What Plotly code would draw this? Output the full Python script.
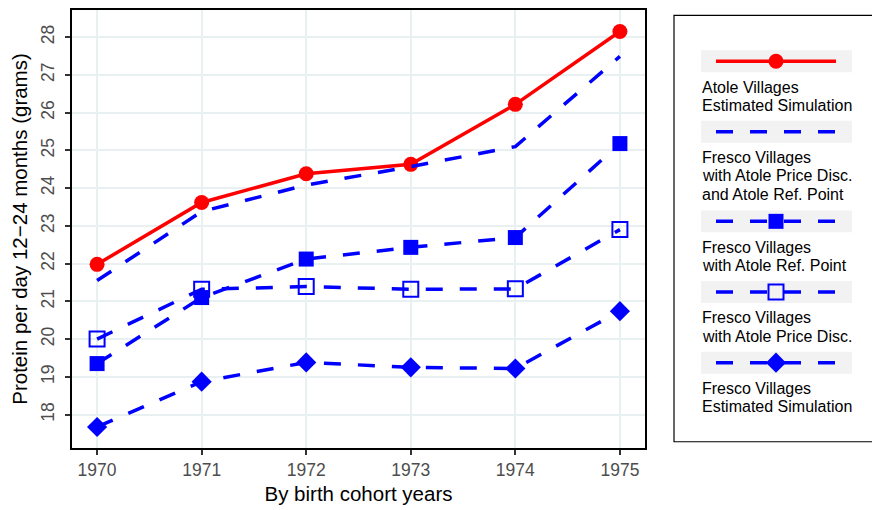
import plotly.graph_objects as go

# cohort years and protein per day (grams)
years = [1970, 1971, 1972, 1973, 1974, 1975]
atole_sim = [21.98, 23.62, 24.38, 24.63, 26.22, 28.15]
fresco_disc_ref = [21.55, 23.38, 24.08, 24.57, 25.10, 27.49]
fresco_ref = [19.35, 21.10, 22.12, 22.43, 22.69, 25.18]
fresco_disc = [20.00, 21.32, 21.39, 21.32, 21.33, 22.90]
fresco_sim = [17.67, 18.87, 19.38, 19.25, 19.22, 20.74]

series_names = [
    ['Atole Villages', 'Estimated Simulation'],
    ['Fresco Villages', 'with Atole Price Disc.', 'and Atole Ref. Point'],
    ['Fresco Villages', 'with Atole Ref. Point'],
    ['Fresco Villages', 'with Atole Price Disc.'],
    ['Fresco Villages', 'Estimated Simulation'],
]
series_values = [atole_sim, fresco_disc_ref, fresco_ref, fresco_disc, fresco_sim]

RED = '#FF0000'
BLUE = '#0000FF'
FONT = 'Liberation Sans, Arial, Helvetica, sans-serif'
DASH = '17px,17px'

styles = [
    dict(color=RED, dash='solid', symbol='circle', size=15, mline=0),
    dict(color=BLUE, dash=DASH, symbol=None, size=0, mline=0),
    dict(color=BLUE, dash=DASH, symbol='square', size=15, mline=0),
    dict(color=BLUE, dash=DASH, symbol='square-open', size=15, mline=2),
    dict(color=BLUE, dash=DASH, symbol='diamond', size=15.5, mline=0),
]

# the page body has an 8px margin, so the figure starts at page pixel (8, 8)
PAGE_OFF = 8
PLOT_L, PLOT_R, PLOT_B = 72, 645, 448      # page pixels of the panel
PAPER_W = 880 - (PLOT_L - PAGE_OFF)         # paper runs to the figure's right edge
PAPER_H = PLOT_B - PAGE_OFF


def px_x(p):
    return (p - PLOT_L) / PAPER_W


def px_y(p):
    return (PLOT_B - p) / PAPER_H


fig = go.Figure()

for vals, st in zip(series_values, styles):
    fig.add_trace(go.Scatter(
        x=years, y=vals,
        mode='lines+markers' if st['symbol'] else 'lines',
        line=dict(color=st['color'], width=3.5, dash=st['dash']),
        marker=dict(symbol=st['symbol'] or 'circle', size=st['size'], color=st['color'],
                    opacity=1, line=dict(width=st['mline'], color=st['color'])),
        showlegend=False, cliponaxis=False,
    ))

# hand-built legend: key above, label below (as in the ggplot original)
key_y = [59.5, 130.3, 220.3, 291.3, 362.3]
key_x0, key_x1 = 716, 836
key_mid = (key_x0 + key_x1) / 2
shapes = [dict(type='rect', xref='paper', yref='paper', x0=px_x(674), x1=1.02,
               y0=px_y(441.7), y1=px_y(13.3),
               line=dict(color='black', width=1.2), fillcolor='white', layer='below')]
annotations = []
for names, st, cy in zip(series_names, styles, key_y):
    shapes.append(dict(type='rect', xref='x2', yref='y2', x0=701, x1=852, y0=cy - 11, y1=cy + 11,
                       fillcolor='#F2F2F2', line=dict(width=0), layer='below'))
    fig.add_trace(go.Scatter(
        x=[key_x0, key_mid, key_x1], y=[cy, cy, cy], xaxis='x2', yaxis='y2',
        mode='lines+markers',
        line=dict(color=st['color'], width=3.5, dash=st['dash']),
        marker=dict(symbol=st['symbol'] or 'circle', size=[0, st['size'], 0], color=st['color'],
                    opacity=1, line=dict(width=st['mline'], color=st['color'])),
        showlegend=False, hoverinfo='skip',
    ))
    for j, line in enumerate(names):
        annotations.append(dict(xref='x2', yref='y2', x=700, y=cy + 26 + 18.3 * j, text=line,
                                xanchor='left', yanchor='middle', showarrow=False,
                                font=dict(size=16, color='black', family=FONT)))

axis_common = dict(
    showgrid=True, gridcolor='#E9F0F1', gridwidth=2, zeroline=False,
    showline=True, mirror=True, linecolor='black', linewidth=2,
    ticks='outside', ticklen=5, tickwidth=2, tickcolor='#333333',
    tickfont=dict(size=17.5, color='#4D4D4D', family=FONT),
)

fig.update_layout(
    width=880, height=510,
    margin=dict(l=PLOT_L - PAGE_OFF, r=0, t=0, b=510 - PAPER_H),
    paper_bgcolor='white', plot_bgcolor='white',
    font=dict(family=FONT),
    xaxis=dict(axis_common, domain=[0, px_x(PLOT_R)], range=[1969.76, 1975.24], tickvals=years,
               title=dict(text='By birth cohort years', font=dict(size=20.5, color='black'),
                          standoff=8)),
    yaxis=dict(axis_common, range=[17.113, 28.72], dtick=1, tickangle=-90, ticklabelstandoff=4,
               title=dict(text='Protein per day 12\u221224 months (grams)',
                          font=dict(size=20.5, color='black'), standoff=6)),
    xaxis2=dict(domain=[px_x(660), 1], range=[660, 880 + PAGE_OFF], visible=False,
                anchor='y2', fixedrange=True),
    yaxis2=dict(domain=[0, 1], range=[PLOT_B, PAGE_OFF], visible=False, anchor='x2',
                fixedrange=True),
    shapes=shapes,
    annotations=annotations,
)

fig.write_html("out.html")
